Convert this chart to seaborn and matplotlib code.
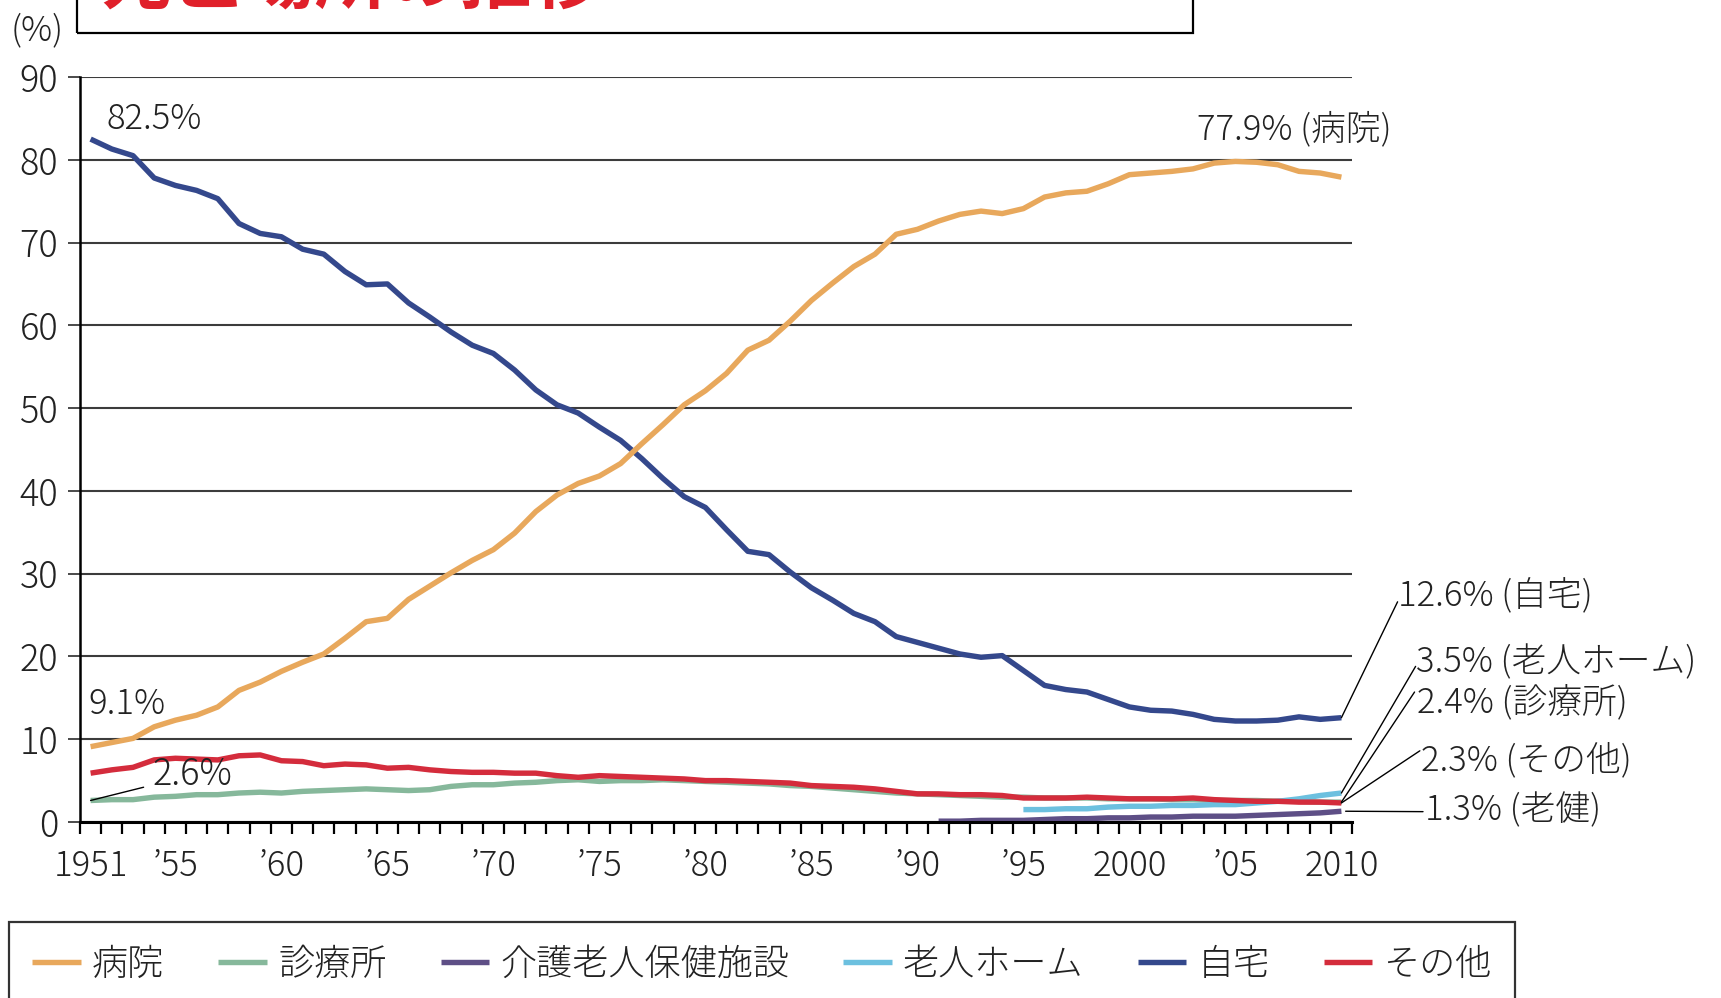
import numpy as np
import pandas as pd
import matplotlib
matplotlib.use("Agg")
import matplotlib.pyplot as plt
import matplotlib.patches as mpatches
import seaborn as sns

# ---------------- data ----------------
years = list(range(1951, 2011))

hospital = [9.1, 9.6, 10.1, 11.5, 12.3, 12.9, 13.9, 15.9, 16.9, 18.2,
            19.3, 20.3, 22.2, 24.2, 24.6, 26.9, 28.5, 30.1, 31.6, 32.9,
            34.9, 37.5, 39.5, 40.9, 41.8, 43.3, 45.7, 48.0, 50.4, 52.1,
            54.2, 57.0, 58.2, 60.5, 63.0, 65.1, 67.1, 68.6, 71.0, 71.6,
            72.6, 73.4, 73.8, 73.5, 74.1, 75.5, 76.0, 76.2, 77.1, 78.2,
            78.4, 78.6, 78.9, 79.6, 79.8, 79.7, 79.4, 78.6, 78.4, 77.9]

clinic = [2.6, 2.7, 2.7, 3.0, 3.1, 3.3, 3.3, 3.5, 3.6, 3.5,
          3.7, 3.8, 3.9, 4.0, 3.9, 3.8, 3.9, 4.3, 4.5, 4.5,
          4.7, 4.8, 5.0, 5.1, 4.9, 5.0, 5.0, 5.1, 5.0, 4.9,
          4.8, 4.7, 4.6, 4.4, 4.3, 4.1, 3.9, 3.7, 3.5, 3.4,
          3.3, 3.2, 3.1, 3.0, 3.0, 2.9, 2.9, 2.9, 2.8, 2.8,
          2.8, 2.7, 2.7, 2.6, 2.6, 2.6, 2.5, 2.5, 2.4, 2.4]

home = [82.5, 81.3, 80.5, 77.8, 76.9, 76.3, 75.3, 72.3, 71.1, 70.7,
        69.2, 68.6, 66.5, 64.9, 65.0, 62.7, 61.0, 59.2, 57.6, 56.6,
        54.6, 52.2, 50.4, 49.4, 47.7, 46.1, 43.9, 41.5, 39.3, 38.0,
        35.3, 32.7, 32.3, 30.2, 28.3, 26.8, 25.2, 24.2, 22.4, 21.7,
        21.0, 20.3, 19.9, 20.1, 18.3, 16.5, 16.0, 15.7, 14.8, 13.9,
        13.5, 13.4, 13.0, 12.4, 12.2, 12.2, 12.3, 12.7, 12.4, 12.6]

other = [5.9, 6.3, 6.6, 7.5, 7.7, 7.6, 7.5, 8.0, 8.1, 7.4,
         7.3, 6.8, 7.0, 6.9, 6.5, 6.6, 6.3, 6.1, 6.0, 6.0,
         5.9, 5.9, 5.6, 5.4, 5.6, 5.5, 5.4, 5.3, 5.2, 5.0,
         5.0, 4.9, 4.8, 4.7, 4.4, 4.3, 4.2, 4.0, 3.7, 3.4,
         3.4, 3.3, 3.3, 3.2, 2.9, 2.9, 2.9, 3.0, 2.9, 2.8,
         2.8, 2.8, 2.9, 2.7, 2.6, 2.5, 2.5, 2.4, 2.4, 2.3]

nursing_home_years = list(range(1995, 2011))
nursing_home = [1.5, 1.5, 1.6, 1.6, 1.8, 1.9, 1.9, 2.0, 2.0, 2.1,
                2.1, 2.3, 2.5, 2.8, 3.2, 3.5]

roken_years = list(range(1991, 2011))
roken = [0.1, 0.1, 0.2, 0.2, 0.2, 0.3, 0.4, 0.4, 0.5, 0.5,
         0.6, 0.6, 0.7, 0.7, 0.7, 0.8, 0.9, 1.0, 1.1, 1.3]

series_names = ["病院", "診療所", "介護老人保健施設", "老人ホーム", "自宅", "その他"]
series_colors = ["#e8a85c", "#86b89b", "#5e4f86", "#6cc0df", "#34488c", "#d42c3c"]

xtick_pos = [1951, 1955, 1960, 1965, 1970, 1975, 1980, 1985, 1990, 1995, 2000, 2005, 2010]
xtick_labels = ["1951", "’55", "’60", "’65", "’70", "’75", "’80", "’85", "’90", "’95",
                "2000", "’05", "2010"]

# ---------------- style ----------------
sns.set_theme(style="white")
JP = "Noto Sans CJK JP"
plt.rcParams["font.family"] = [JP, "DejaVu Sans"]
plt.rcParams["font.weight"] = "light"

W, H = 1721, 998
fig = plt.figure(figsize=(W / 100, H / 100), dpi=100)
fig.patch.set_facecolor("white")
ax = fig.add_axes([80 / W, 1 - 822 / H, (1352 - 80) / W, (822 - 77) / H])
ax.set_facecolor("white")

frames = [
    pd.DataFrame({"year": years, "value": clinic, "place": "診療所"}),
    pd.DataFrame({"year": roken_years, "value": roken, "place": "介護老人保健施設"}),
    pd.DataFrame({"year": nursing_home_years, "value": nursing_home, "place": "老人ホーム"}),
    pd.DataFrame({"year": years, "value": other, "place": "その他"}),
    pd.DataFrame({"year": years, "value": home, "place": "自宅"}),
    pd.DataFrame({"year": years, "value": hospital, "place": "病院"}),
]
palette = dict(zip(series_names, series_colors))
for df in frames:
    name = df["place"].iloc[0]
    sns.lineplot(data=df, x="year", y="value", color=palette[name], linewidth=3.9,
                 ax=ax, label=name, legend=False, solid_capstyle="butt")

# axes
ax.set_xlim(1950.5, 2010.5)
ax.set_ylim(0, 90)
ax.set_xlabel("")
ax.set_ylabel("")
ax.set_yticks(range(0, 91, 10))
ax.yaxis.grid(True, color="#3c3c3c", linewidth=1.5)
ax.xaxis.grid(False)
ax.set_axisbelow(True)
for s in ["top", "right"]:
    ax.spines[s].set_visible(False)
ax.spines["left"].set_color("black")
ax.spines["left"].set_linewidth(1.8)
ax.spines["bottom"].set_color("black")
ax.spines["bottom"].set_linewidth(2.2)

ax.set_xticks(xtick_pos)
ax.set_xticklabels(xtick_labels)
ax.set_xticks(np.arange(1950.5, 2011, 1.0), minor=True)
ax.tick_params(axis="x", which="major", length=0, pad=19, labelsize=25, labelcolor="#222")
ax.tick_params(axis="x", which="minor", length=8.6, width=1.6, color="black", direction="out", bottom=True)
ax.tick_params(axis="y", which="major", length=8.5, width=1.3, color="#3c3c3c", pad=7,
               labelsize=26, labelcolor="#222", left=True)

# annotations
txt_kw = dict(fontsize=25, color="#222", va="center", ha="left", clip_on=False)
ax.text(1951.75, 84.9, "82.5%", **txt_kw)
ax.text(2003.2, 83.7, "77.9% (病院)", **txt_kw)
ax.text(1950.9, 14.25, "9.1%", **txt_kw)
ax.text(1953.9, 5.7, "2.6%", fontsize=26, color="#222", va="center", ha="left")
ax.plot([1951, 1953.5], [2.6, 4.2], color="black", lw=1.0, clip_on=False)

right_labels = [
    ("12.6% (自宅)", 2012.65, 27.3, 2010, 12.6, 2012.65, 26.6),
    ("3.5% (老人ホーム)", 2013.5, 19.3, 2010, 3.5, 2013.5, 18.8),
    ("2.4% (診療所)", 2013.55, 14.5, 2010, 2.4, 2013.45, 15.7),
    ("2.3% (その他)", 2013.75, 7.5, 2010, 2.3, 2013.7, 8.6),
    ("1.3% (老健)", 2013.95, 1.45, 2010.2, 1.3, 2013.85, 1.25),
]
for label, tx, ty, x0, y0, x1, y1 in right_labels:
    ax.text(tx, ty, label, **txt_kw)
    ax.plot([x0, x1], [y0, y1], color="black", lw=1.0, clip_on=False)

# (%) unit
fig.text(11 / W, 1 - 30 / H, "(%)", fontsize=25, color="#222", ha="left", va="center")

# title box (partially cut at top, as in the source)
box = mpatches.Rectangle((77 / W, 1 - 33 / H), (1193 - 77) / W, 60 / H,
                         transform=fig.transFigure, fill=False, edgecolor="black",
                         linewidth=1.6, clip_on=False)
fig.patches.append(box)
fig.text(99 / W, 1 - 4 / H, "死亡場所の推移", fontsize=52, color="#e0202a",
         fontweight="bold", ha="left", va="baseline")

# legend
handles, labels = ax.get_legend_handles_labels()
order = [labels.index(n) for n in series_names]
handles = [handles[i] for i in order]
labels = [labels[i] for i in order]
leg = fig.legend(handles, labels, loc="upper left", bbox_to_anchor=(9 / W, 1 - 922 / H),
                 ncol=6, frameon=True, fancybox=False, edgecolor="black",
                 handlelength=1.35, handletextpad=0.3, columnspacing=1.5,
                 borderpad=0.65, borderaxespad=0, fontsize=26)
leg.get_frame().set_linewidth(1.6)
for t in leg.get_texts():
    t.set_color("#222")

fig.savefig("out.png", dpi=100, facecolor="white")
